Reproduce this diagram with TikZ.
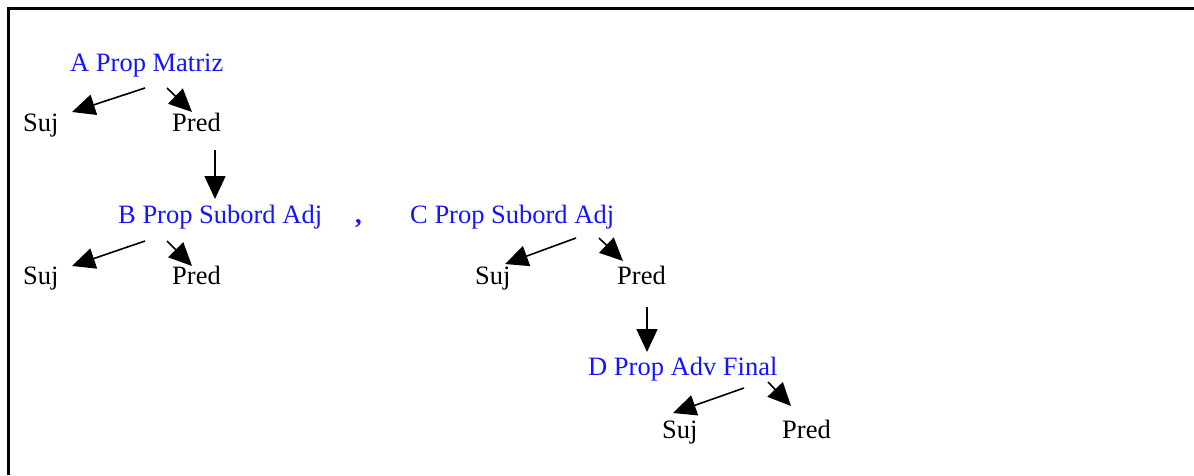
\documentclass[tikz,border=0pt]{standalone}
\usepackage{fontspec}
\setmainfont{Liberation Serif}
\usetikzlibrary{arrows.meta}
\definecolor{lblue}{RGB}{20,20,255}
\begin{document}
\begin{tikzpicture}[x=1pt,y=-1pt,
  lbl/.style={anchor=base west,inner sep=0pt,font=\fontsize{26.5}{30}\selectfont},
  head/.style={lbl,text=lblue},
  arr/.style={line width=1.6pt,-{Triangle[length=23pt,width=21pt]}},
  frame/.style={line width=3pt}]
\useasboundingbox (0,0) rectangle (1194,475);
\draw[frame] (8,475) -- (8,8) -- (1194,8);
% nodes
\node[head] (A) at (70,71) {A Prop Matriz};
\node[lbl] (sA) at (23,131) {Suj};
\node[lbl] (pA) at (172,131) {Pred};
\node[head] (B) at (118,223) {B Prop Subord Adj};
\node[head,font=\fontsize{26.5}{30}\selectfont\bfseries] (comma) at (355,223) {,};
\node[lbl] (sB) at (23,284) {Suj};
\node[lbl] (pB) at (172,284) {Pred};
\node[head] (C) at (410,223) {C Prop Subord Adj};
\node[lbl] (sC) at (475,284) {Suj};
\node[lbl] (pC) at (617,284) {Pred};
\node[head] (D) at (588,375) {D Prop Adv Final};
\node[lbl] (sD) at (662,438) {Suj};
\node[lbl] (pD) at (782,438) {Pred};
% connectors
\draw[arr] ([shift={(75,17)}]A.base west) -- ([shift={(49,-19)}]sA.base west);
\draw[arr] ([shift={(97,17)}]A.base west) -- ([shift={(20,-19)}]pA.base west);
\draw[arr] ([shift={(43,19)}]pA.base west) -- ([shift={(97,-24)}]B.base west);
\draw[arr] ([shift={(27,18)}]B.base west) -- ([shift={(49,-18)}]sB.base west);
\draw[arr] ([shift={(49,18)}]B.base west) -- ([shift={(20,-18)}]pB.base west);
\draw[arr] ([shift={(166,15)}]C.base west) -- ([shift={(30,-20)}]sC.base west);
\draw[arr] ([shift={(189,15)}]C.base west) -- ([shift={(6,-23)}]pC.base west);
\draw[arr] ([shift={(30,23)}]pC.base west) -- ([shift={(59,-23)}]D.base west);
\draw[arr] ([shift={(156,13)}]D.base west) -- ([shift={(11,-25)}]sD.base west);
\draw[arr] ([shift={(180,7)}]D.base west) -- ([shift={(9,-32)}]pD.base west);
\end{tikzpicture}
\end{document}
